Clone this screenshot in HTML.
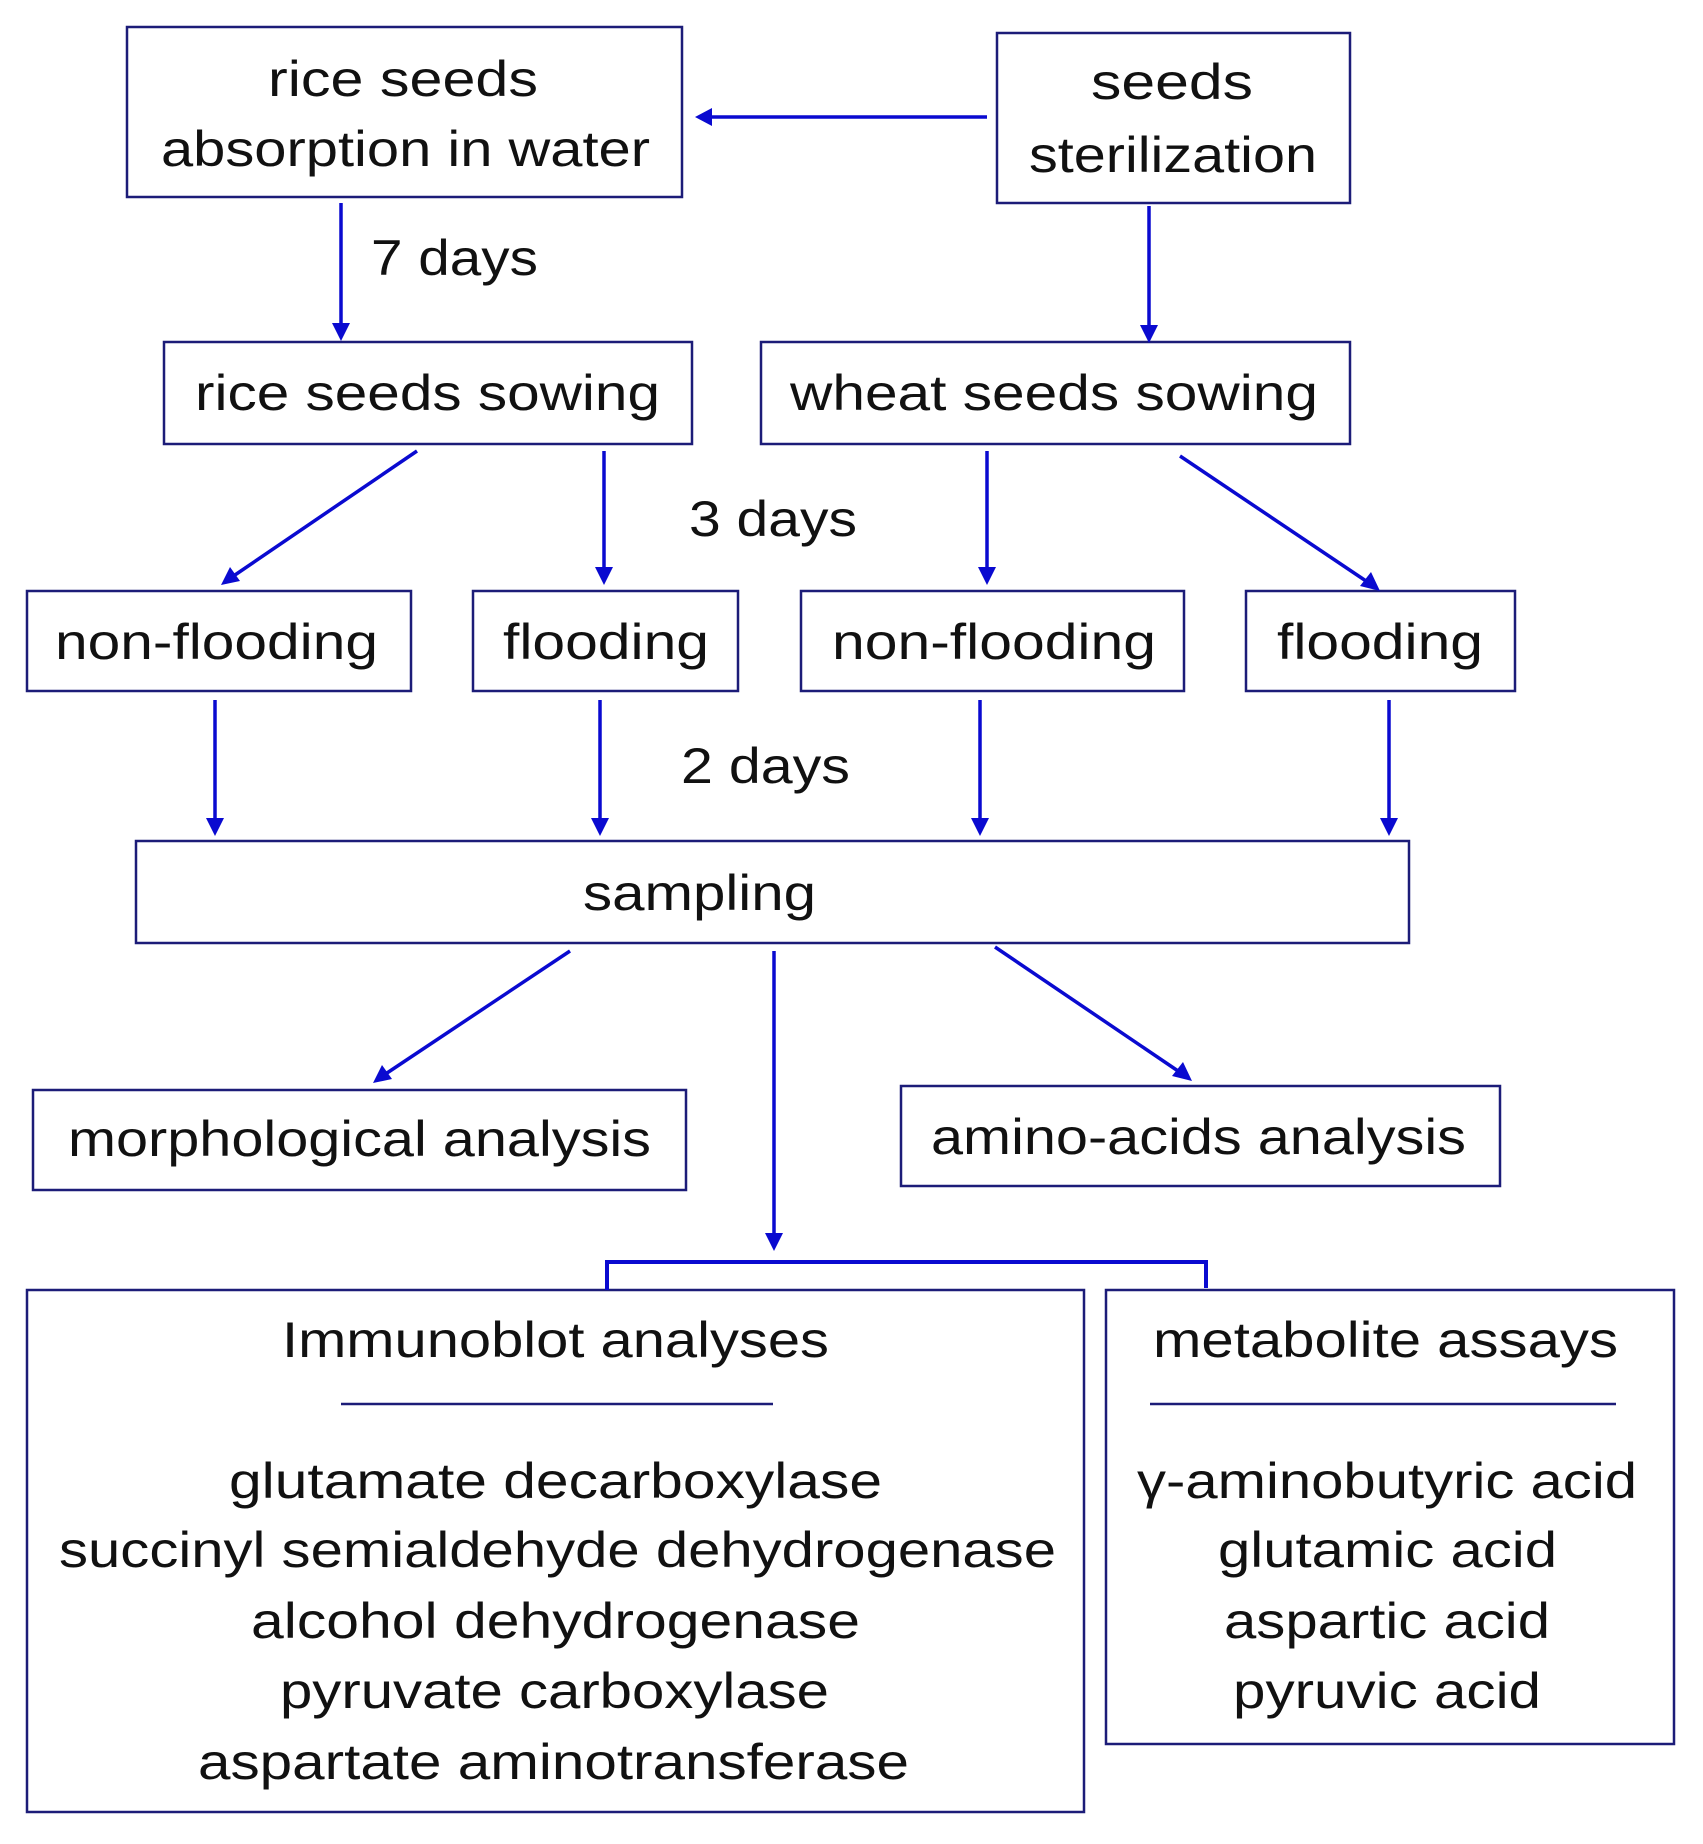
<!DOCTYPE html>
<html><head><meta charset="utf-8"><style>
html,body{margin:0;padding:0;background:#fff;}
svg{display:block;}
text{font-family:"Liberation Sans",Arial,sans-serif;font-size:50px;fill:#111;}
</style></head><body>
<svg width="1703" height="1844" viewBox="0 0 1703 1844" xmlns="http://www.w3.org/2000/svg">
<defs>
<marker id="a" markerWidth="8" markerHeight="8" refX="6" refY="4" orient="auto" markerUnits="userSpaceOnUse" viewBox="0 0 8 8">
</marker>
</defs>
<g fill="none" stroke="#1c1c78" stroke-width="2.5">
<rect x="127" y="27" width="555" height="170"/>
<rect x="997" y="33" width="353" height="170"/>
<rect x="164" y="342" width="528" height="102"/>
<rect x="761" y="342" width="589" height="102"/>
<rect x="27" y="591" width="384" height="100"/>
<rect x="473" y="591" width="265" height="100"/>
<rect x="801" y="591" width="383" height="100"/>
<rect x="1246" y="591" width="269" height="100"/>
<rect x="136" y="841" width="1273" height="102"/>
<rect x="33" y="1090" width="653" height="100"/>
<rect x="901" y="1086" width="599" height="100"/>
<rect x="27" y="1290" width="1057" height="522"/>
<rect x="1106" y="1290" width="568" height="454"/>
<line x1="341" y1="1404" x2="773" y2="1404"/>
<line x1="1150" y1="1404" x2="1616" y2="1404"/>
</g>
<g stroke="#0a0ad0" stroke-width="3.5" fill="none">
<line x1="987" y1="117" x2="708" y2="117"/>
<line x1="341" y1="203" x2="341" y2="328"/>
<line x1="1149" y1="206" x2="1149" y2="330"/>
<line x1="417" y1="451" x2="232" y2="577"/>
<line x1="604" y1="451" x2="604" y2="572"/>
<line x1="987" y1="451" x2="987" y2="572"/>
<line x1="1180" y1="456" x2="1369" y2="583"/>
<line x1="215" y1="700" x2="215" y2="823"/>
<line x1="600" y1="700" x2="600" y2="823"/>
<line x1="980" y1="700" x2="980" y2="823"/>
<line x1="1389" y1="700" x2="1389" y2="823"/>
<line x1="570" y1="951" x2="384" y2="1075"/>
<line x1="774" y1="951" x2="774" y2="1238"/>
<line x1="995" y1="947" x2="1181" y2="1073"/>
<polyline points="607,1290 607,1262 1206,1262 1206,1288" stroke-width="4"/>
</g>
<g fill="#0a0ad0">
<polygon points="695,117 712,108 712,126"/>
<polygon points="341,341 332,323 350,323"/>
<polygon points="1149,343 1140,325 1158,325"/>
<polygon points="221,585 230,567 240,581"/>
<polygon points="604,585 595,567 613,567"/>
<polygon points="987,585 978,567 996,567"/>
<polygon points="1380,591 1360,586 1371,572"/>
<polygon points="215,836 206,818 224,818"/>
<polygon points="600,836 591,818 609,818"/>
<polygon points="980,836 971,818 989,818"/>
<polygon points="1389,836 1380,818 1398,818"/>
<polygon points="373,1083 382,1065 392,1079"/>
<polygon points="774,1251 765,1233 783,1233"/>
<polygon points="1192,1081 1172,1076 1183,1062"/>
</g>
<g dominant-baseline="central" text-anchor="start">
<text x="268" y="79" textLength="270" lengthAdjust="spacingAndGlyphs">rice seeds</text>
<text x="161" y="149" textLength="489" lengthAdjust="spacingAndGlyphs">absorption in water</text>
<text x="1091" y="82" textLength="162" lengthAdjust="spacingAndGlyphs">seeds</text>
<text x="1029" y="155" textLength="288" lengthAdjust="spacingAndGlyphs">sterilization</text>
<text x="371" y="258" textLength="167" lengthAdjust="spacingAndGlyphs">7 days</text>
<text x="195" y="393" textLength="465" lengthAdjust="spacingAndGlyphs">rice seeds sowing</text>
<text x="790" y="393" textLength="528" lengthAdjust="spacingAndGlyphs">wheat seeds sowing</text>
<text x="689" y="519" textLength="168" lengthAdjust="spacingAndGlyphs">3 days</text>
<text x="55" y="642" textLength="323" lengthAdjust="spacingAndGlyphs">non-flooding</text>
<text x="503" y="642" textLength="206" lengthAdjust="spacingAndGlyphs">flooding</text>
<text x="832" y="642" textLength="324" lengthAdjust="spacingAndGlyphs">non-flooding</text>
<text x="1277" y="642" textLength="206" lengthAdjust="spacingAndGlyphs">flooding</text>
<text x="681" y="766" textLength="169" lengthAdjust="spacingAndGlyphs">2 days</text>
<text x="583" y="893" textLength="233" lengthAdjust="spacingAndGlyphs">sampling</text>
<text x="68" y="1139" textLength="583" lengthAdjust="spacingAndGlyphs">morphological analysis</text>
<text x="931" y="1137" textLength="535" lengthAdjust="spacingAndGlyphs">amino-acids analysis</text>
<text x="282" y="1340" textLength="547" lengthAdjust="spacingAndGlyphs">Immunoblot analyses</text>
<text x="1153" y="1340" textLength="465" lengthAdjust="spacingAndGlyphs">metabolite assays</text>
<text x="229" y="1481" textLength="653" lengthAdjust="spacingAndGlyphs">glutamate decarboxylase</text>
<text x="59" y="1550" textLength="997" lengthAdjust="spacingAndGlyphs">succinyl semialdehyde dehydrogenase</text>
<text x="251" y="1621" textLength="609" lengthAdjust="spacingAndGlyphs">alcohol dehydrogenase</text>
<text x="280" y="1691" textLength="549" lengthAdjust="spacingAndGlyphs">pyruvate carboxylase</text>
<text x="198" y="1762" textLength="711" lengthAdjust="spacingAndGlyphs">aspartate aminotransferase</text>
<text x="1137" y="1481" textLength="500" lengthAdjust="spacingAndGlyphs">γ-aminobutyric acid</text>
<text x="1218" y="1550" textLength="339" lengthAdjust="spacingAndGlyphs">glutamic acid</text>
<text x="1224" y="1621" textLength="326" lengthAdjust="spacingAndGlyphs">aspartic acid</text>
<text x="1233" y="1691" textLength="308" lengthAdjust="spacingAndGlyphs">pyruvic acid</text>
</g>
</svg>
</body></html>
